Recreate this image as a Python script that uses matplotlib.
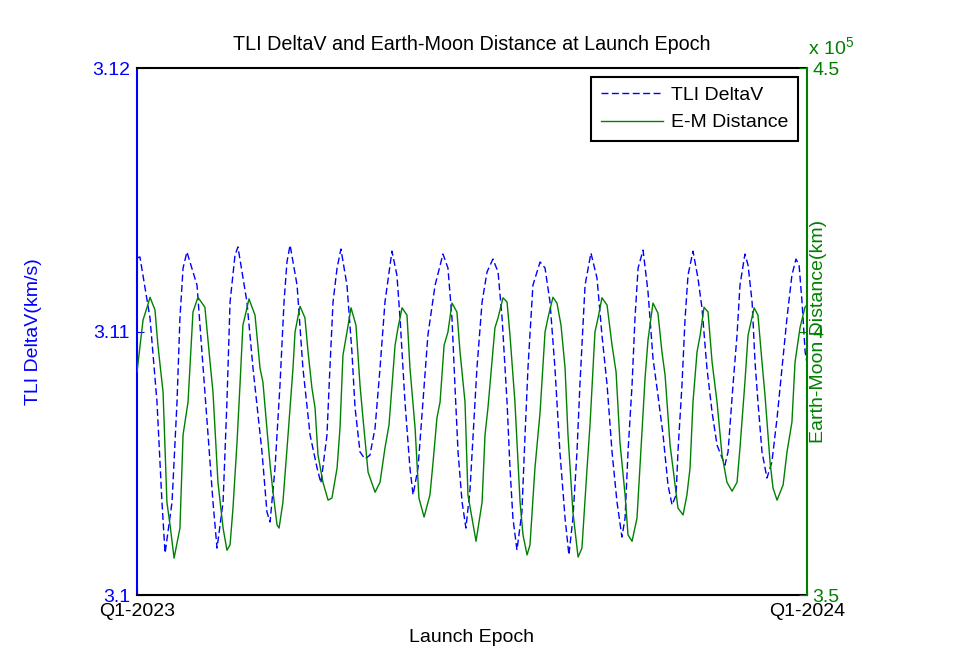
import matplotlib
matplotlib.use('Agg')
import matplotlib.pyplot as plt

# Fonts close to the MATLAB look
plt.rcParams['font.family'] = ['Liberation Sans', 'DejaVu Sans']
plt.rcParams['font.size'] = 14
plt.rcParams['mathtext.default'] = 'regular'

# TLI DeltaV (km/s) vs. days after Q1-2023 launch epoch
dv_days = [0, 1.6, 7.1, 10.9, 13.6, 15.3, 19.1, 21.8, 23.4, 25.1, 27.2, 32.7, 35.4, 38.7, 41.4,
           43.6, 46.9, 49.0, 50.7, 53.4, 55.0, 59.9, 63.2, 68.1, 70.8, 72.5, 75.2, 77.9, 80.1,
           81.7, 83.4, 87.2, 90.4, 94.3, 98.1, 100.2, 103.5, 105.1, 106.8, 109.0, 111.1, 114.4,
           117.1, 118.8, 121.5, 124.2, 126.9, 129.7, 132.4, 135.1, 138.9, 141.6, 143.3, 146.0,
           148.7, 150.4, 153.1, 155.8, 158.5, 162.4, 166.7, 169.4, 171.6, 173.2, 174.9, 177.1,
           179.2, 181.4, 183.1, 185.2, 188.0, 190.7, 193.9, 196.7, 198.9, 201.6, 203.2, 204.8,
           207.0, 209.7, 211.4, 213.0, 215.7, 219.6, 222.3, 225.0, 227.7, 230.4, 233.2, 235.3,
           237.5, 239.7, 241.3, 244.1, 247.3, 250.6, 253.3, 256.1, 258.8, 261.5, 264.2, 265.9,
           267.5, 269.7, 271.3, 273.0, 275.7, 278.4, 281.1, 283.8, 286.6, 289.3, 291.5, 293.7,
           294.7, 296.9, 298.6, 300.2, 302.9, 305.6, 307.8, 310.5, 313.3, 316.0, 320.3, 322.0,
           324.7, 326.9, 328.5, 331.2, 332.9, 335.1, 336.7, 338.3, 340.5, 343.2, 345.9, 348.7,
           351.4, 354.1, 356.8, 359.0, 360.7, 362.3, 364.0, 365.0]
delta_v = [3.11279, 3.11283, 3.11051, 3.10732, 3.10353, 3.10159, 3.10353, 3.10732, 3.11051,
           3.11241, 3.11302, 3.11176, 3.10922, 3.10607, 3.10353, 3.10178, 3.10353, 3.10732,
           3.11112, 3.11290, 3.11321, 3.11112, 3.10861, 3.10543, 3.10315, 3.10277, 3.10482,
           3.10797, 3.11112, 3.11264, 3.11328, 3.11176, 3.10861, 3.10607, 3.10482, 3.10425,
           3.10607, 3.10861, 3.11112, 3.11241, 3.11313, 3.11176, 3.10922, 3.10710, 3.10543,
           3.10516, 3.10531, 3.10634, 3.10861, 3.11112, 3.11305, 3.11214, 3.11051, 3.10732,
           3.10482, 3.10380, 3.10482, 3.10732, 3.10987, 3.11176, 3.11294, 3.11241, 3.11051,
           3.10797, 3.10543, 3.10353, 3.10254, 3.10398, 3.10607, 3.10861, 3.11112, 3.11226,
           3.11275, 3.11226, 3.11051, 3.10732, 3.10482, 3.10292, 3.10171, 3.10315, 3.10607,
           3.10861, 3.11176, 3.11264, 3.11241, 3.11112, 3.10861, 3.10543, 3.10292, 3.10152,
           3.10292, 3.10543, 3.10797, 3.11176, 3.11298, 3.11203, 3.10987, 3.10797, 3.10543,
           3.10353, 3.10220, 3.10292, 3.10543, 3.10797, 3.11051, 3.11241, 3.11309, 3.11150,
           3.10899, 3.10759, 3.10607, 3.10417, 3.10342, 3.10380, 3.10543, 3.10797, 3.11051,
           3.11214, 3.11305, 3.11203, 3.11089, 3.10861, 3.10694, 3.10569, 3.10493, 3.10543,
           3.10797, 3.10987, 3.11176, 3.11294, 3.11252, 3.11112, 3.10884, 3.10732, 3.10543,
           3.10444, 3.10505, 3.10672, 3.10861, 3.11051, 3.11214, 3.11275, 3.11252, 3.11112,
           3.10922, 3.10880]

# Earth-Moon distance (km)
em_days = [0, 3.3, 5.4, 7.1, 9.8, 11.4, 14.2, 16.3, 18.0, 20.2, 23.4, 25.1, 27.8, 30.5, 33.2,
           37.0, 39.8, 41.4, 44.1, 46.9, 49.0, 50.7, 52.3, 54.5, 56.1, 57.7, 59.4, 61.0, 64.3,
           67.0, 68.6, 72.5, 74.1, 76.3, 77.4, 79.5, 82.3, 85.0, 86.1, 88.8, 91.5, 93.2, 95.3,
           97.0, 98.6, 101.3, 104.1, 106.2, 109.0, 110.6, 112.2, 114.4, 116.6, 119.3, 121.5,
           123.1, 125.9, 129.7, 132.4, 135.1, 137.3, 140.6, 142.2, 144.4, 147.1, 148.7, 151.5,
           153.6, 156.4, 159.6, 161.3, 163.4, 165.1, 167.3, 169.4, 171.6, 174.3, 176.0, 178.7,
           180.3, 182.5, 184.7, 188.0, 189.6, 191.2, 195.0, 196.7, 199.4, 201.6, 203.2, 205.9,
           208.7, 210.3, 212.5, 214.1, 216.8, 219.6, 222.3, 223.9, 226.6, 228.8, 231.0, 233.2,
           234.8, 237.5, 240.3, 242.4, 245.2, 246.8, 249.5, 251.2, 253.3, 256.1, 258.8, 261.0,
           263.1, 265.9, 267.5, 269.7, 272.4, 274.6, 276.8, 278.4, 281.1, 283.8, 286.0, 287.7,
           290.4, 292.0, 294.7, 297.5, 299.6, 301.3, 302.9, 305.1, 306.8, 308.9, 311.1, 313.3,
           316.0, 318.7, 321.4, 324.2, 326.9, 328.5, 331.2, 332.9, 336.2, 338.3, 340.5, 342.1,
           344.9, 346.5, 348.7, 352.0, 354.1, 356.8, 358.5, 361.2, 363.9, 365.0]
em_dist = [392300, 402200, 404500, 406500, 404100, 397400, 388500, 367600, 363300, 357000,
           362700, 380400, 386600, 403700, 406500, 404600, 394200, 388500, 371400, 362700,
           358500, 359500, 366500, 379000, 389800, 401200, 403700, 406200, 403100, 393100,
           390400, 374700, 369500, 363300, 362700, 367600, 380400, 393100, 399900, 404800,
           402600, 396100, 389300, 385500, 376600, 371400, 368000, 368400, 374100, 381700,
           395500, 399900, 404500, 401200, 389800, 383600, 373300, 369500, 371400, 377900,
           382300, 397400, 400700, 404500, 403100, 393100, 381700, 368400, 364800, 369000,
           375200, 383600, 386600, 397400, 399900, 405400, 403700, 396100, 386600, 369000,
           364600, 360200, 367600, 380400, 385500, 400700, 402600, 406400, 405600, 399300,
           386600, 367600, 361400, 357600, 359500, 374100, 384700, 399900, 402600, 406500,
           405400, 401200, 393100, 380400, 365700, 357200, 358900, 374100, 382300, 399900,
           402600, 406400, 405000, 397400, 392300, 379000, 369000, 361400, 360200, 364600,
           377900, 391200, 398400, 405400, 403500, 396100, 391700, 378500, 374100, 366500,
           365200, 369000, 374100, 386600, 396100, 399300, 404600, 403700, 394200, 386600,
           376600, 371400, 369700, 371400, 377900, 390400, 399300, 404500, 403100, 394200,
           388000, 375200, 370300, 368000, 370900, 377100, 382800, 394200, 400700, 404600,
           405000]

x_ticks = [0, 365]
x_labels = ['Q1-2023', 'Q1-2024']
left_ticks = [3.10, 3.11, 3.12]
left_labels = ['3.1', '3.11', '3.12']
right_ticks = [350000, 400000, 450000]
right_labels = ['3.5', '4', '4.5']

blue = '#0000ff'
green = '#008000'

fig = plt.figure(figsize=(9.6, 6.69), dpi=100)
ax = fig.add_axes([0.1427, 0.1106, 0.6979, 0.7877])
ax2 = ax.twinx()

l1, = ax.plot(dv_days, delta_v, color=blue, lw=1.0, linestyle=(0, (5, 2.5)), label='TLI DeltaV')
l2, = ax2.plot(em_days, em_dist, color=green, lw=1.0, label='E-M Distance')

ax.set_xlim(0, 365)
ax.set_ylim(3.10, 3.12)
ax2.set_ylim(350000, 450000)

ax.set_xticks(x_ticks)
ax.set_xticklabels(x_labels)
ax.set_yticks(left_ticks)
ax.set_yticklabels(left_labels)
ax2.set_yticks(right_ticks)
ax2.set_yticklabels(right_labels)

ax.tick_params(axis='x', direction='in', length=4, pad=6, colors='black', labelsize=14)
ax.tick_params(axis='y', direction='in', length=5, pad=5, colors=blue, labelsize=14)
ax2.tick_params(axis='y', direction='in', length=6, pad=4, colors=green, labelsize=14)

for s in ['top', 'bottom']:
    ax.spines[s].set_color('black')
    ax.spines[s].set_linewidth(1.5)
ax.spines['left'].set_color(blue)
ax.spines['left'].set_linewidth(1.5)
ax.spines['right'].set_visible(False)
for s in ['top', 'bottom', 'left']:
    ax2.spines[s].set_visible(False)
ax2.spines['right'].set_color(green)
ax2.spines['right'].set_linewidth(1.5)

ax.set_title('TLI DeltaV and Earth-Moon Distance at Launch Epoch', fontsize=14.2, pad=13)
ax.set_xlabel('Launch Epoch', fontsize=14)
ax.xaxis.set_label_coords(0.5, -0.064)
ax.set_ylabel('TLI DeltaV(km/s)', color=blue, fontsize=14)
ax.yaxis.set_label_coords(-0.142, 0.5)
ax2.set_ylabel('Earth-Moon Distance(km)', color=green, fontsize=14, rotation=90)
ax2.yaxis.set_label_coords(1.0045, 0.5)

# MATLAB style exponent marker on the right axis
ax2.text(1.002, 1.018, 'x 10$^{5}$', transform=ax2.transAxes, color=green,
         fontsize=14, ha='left', va='bottom')

leg = ax2.legend(handles=[l1, l2], loc='upper right', fontsize=14, fancybox=False,
                 framealpha=1, edgecolor='black', handlelength=3.2, borderaxespad=0.45,
                 labelspacing=0.5, handletextpad=0.4, borderpad=0.5)
leg.get_frame().set_linewidth(1.5)

fig.savefig('out.png', dpi=100)
